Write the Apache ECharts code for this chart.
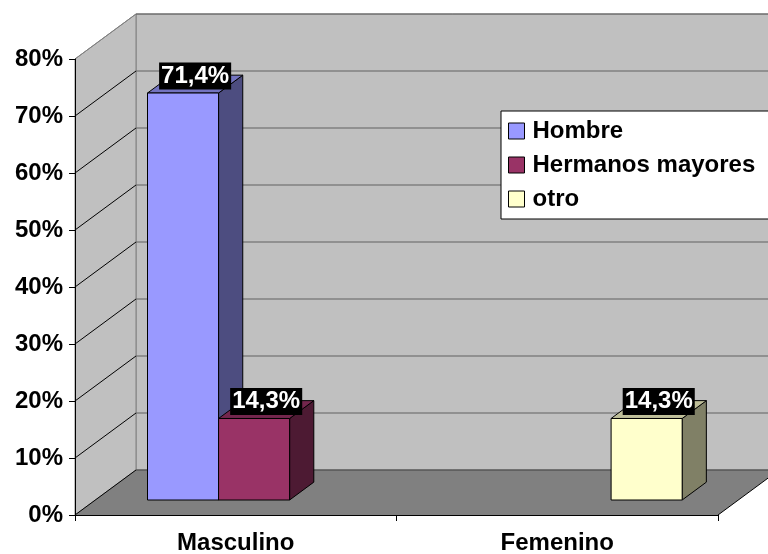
<!DOCTYPE html>
<html lang="es">
<head>
  <meta charset="UTF-8">
  <title>Chart</title>
  <script src="https://cdn.jsdelivr.net/npm/echarts@6.0.0/dist/echarts.min.js"></script>
  <style>
    html, body { margin: 0; padding: 0; background: #fff; }
  </style>
</head>
<body>
<div id="main" style="width: 768px;height:554px;"></div>
<script type="text/javascript">
  // datos
  const categories = ['Masculino', 'Femenino'];
  const seriesNames = ['Hombre', 'Hermanos mayores', 'otro'];
  const hombre = [71.4, 0];
  const hermanos = [14.3, 0];
  const otro = [0, 14.3];
  const yTicks = [0, 10, 20, 30, 40, 50, 60, 70, 80];

  // colores: frente, arriba, lado
  const colors = [
    ['#9999FF', '#7373BF', '#4D4D80'],
    ['#993366', '#73264D', '#4D1A33'],
    ['#FFFFCC', '#BFBF99', '#808066']
  ];

  // profundidad 3D (pixeles)
  const DX = 61, DY = -45;
  const D1 = 1 / 3, D2 = 0.73;
  const BAR_FRAC = 0.221;
  const FONT = 'bold 24px "Liberation Sans", Arial, sans-serif';

  var myChart = echarts.init(document.getElementById('main'));

  function fmt(v) {
    return v.toFixed(1).replace('.', ',') + '%';
  }

  // paredes y lineas de division
  function renderWalls(params, api) {
    const cs = params.coordSys;
    const L = cs.x, R = cs.x + cs.width, T = cs.y, B = cs.y + cs.height;
    const v = api.value(1);
    const y = api.coord([0, v])[1];
    const children = [];
    if (params.dataIndex === 0) {
      children.push({
        type: 'polygon',
        shape: {points: [[L + DX, T + DY], [R + DX, T + DY], [R + DX, B + DY], [L + DX, B + DY]]},
        style: {fill: '#C0C0C0', stroke: '#808080', lineWidth: 1}
      });
      children.push({
        type: 'polygon',
        shape: {points: [[L, T], [L + DX, T + DY], [L + DX, B + DY], [L, B]]},
        style: {fill: '#C0C0C0', stroke: '#808080', lineWidth: 1}
      });
      children.push({
        type: 'polygon',
        shape: {points: [[L, B], [R, B], [R + DX, B + DY], [L + DX, B + DY]]},
        style: {fill: '#808080', stroke: null}
      });
      children.push({
        type: 'line',
        shape: {x1: R, y1: B, x2: R + DX, y2: B + DY},
        style: {stroke: '#000', lineWidth: 1}
      });
    }
    children.push({
      type: 'line',
      shape: {x1: L + DX, y1: y + DY, x2: R + DX, y2: y + DY},
      style: {stroke: v === 0 ? '#404040' : '#606060', lineWidth: 1.2}
    });
    children.push({
      type: 'line',
      shape: {x1: L, y1: y, x2: L + DX, y2: y + DY},
      style: {stroke: v === 80 ? '#808080' : '#000', lineWidth: 1}
    });
    return {type: 'group', children: children};
  }

  // barras 3D
  function makeBarRenderer(si) {
    return function (params, api) {
      const cat = api.value(0);
      const v = api.value(1);
      if (!v) return null;
      const c = colors[si];
      const center = api.coord([cat, v]);
      const base = api.coord([cat, 0]);
      const catW = api.size([1, 0])[0];
      const bw = catW * BAR_FRAC;
      const x0 = center[0] - 1.5 * bw + si * bw + DX * D1 - 2;
      const x1 = x0 + bw;
      const yt = center[1] + DY * D1;
      const yb = base[1] + DY * D1;
      const ox = DX * (D2 - D1), oy = DY * (D2 - D1);
      const line = {stroke: '#000', lineWidth: 1};
      return {
        type: 'group',
        children: [
          {type: 'polygon', shape: {points: [[x1, yt], [x1 + ox, yt + oy], [x1 + ox, yb + oy], [x1, yb]]},
            style: Object.assign({fill: c[2]}, line)},
          {type: 'polygon', shape: {points: [[x0, yt], [x0 + ox, yt + oy], [x1 + ox, yt + oy], [x1, yt]]},
            style: Object.assign({fill: c[1]}, line)},
          {type: 'rect', shape: {x: x0, y: yt, width: bw, height: yb - yt},
            style: Object.assign({fill: c[0]}, line)},
          {type: 'text', x: (x0 + x1 + ox) / 2, y: yt + oy / 2 - 8, z2: 10,
            style: {text: fmt(v), fill: '#fff', font: FONT, align: 'center', verticalAlign: 'middle',
              backgroundColor: '#000', padding: [2, 2, 1, 2]}}
        ]
      };
    };
  }

  const values = [hombre, hermanos, otro];
  const barSeries = seriesNames.map(function (name, si) {
    return {
      name: name,
      type: 'custom',
      renderItem: makeBarRenderer(si),
      itemStyle: {color: colors[si][0]},
      encode: {x: 0, y: 1},
      data: values[si].map(function (v, i) { return [i, v]; }),
      z: 3 + si
    };
  });

  myChart.setOption({
    backgroundColor: '#fff',
    animation: false,
    grid: {left: 75, right: 50, top: 59, bottom: 39, containLabel: false, outerBoundsMode: 'none'},
    legend: {
      orient: 'vertical',
      left: 501,
      top: 111,
      data: seriesNames,
      backgroundColor: '#fff',
      borderColor: '#000',
      borderWidth: 1,
      padding: [8, 20, 8, 7],
      itemGap: 10,
      itemWidth: 16,
      itemHeight: 16,
      icon: 'rect',
      itemStyle: {borderColor: '#000', borderWidth: 1},
      textStyle: {fontFamily: '"Liberation Sans", Arial', fontWeight: 'bold', fontSize: 24, color: '#000', padding: [0, 0, 0, 3]}
    },
    xAxis: {
      type: 'category',
      data: categories,
      axisLine: {lineStyle: {color: '#000', width: 1}},
      axisTick: {show: true, length: 6, lineStyle: {color: '#000'}},
      axisLabel: {fontFamily: '"Liberation Sans", Arial', fontWeight: 'bold', fontSize: 24, color: '#000', margin: 16},
      splitLine: {show: false},
      z: 20
    },
    yAxis: {
      type: 'value',
      min: 0,
      max: 80,
      interval: 10,
      axisLine: {show: true, lineStyle: {color: '#000', width: 1}},
      axisTick: {show: true, length: 6, lineStyle: {color: '#000'}},
      axisLabel: {formatter: '{value}%', fontFamily: '"Liberation Sans", Arial', fontWeight: 'bold', fontSize: 24, color: '#000', margin: 12},
      splitLine: {show: false},
      z: 20
    },
    series: [{
      type: 'custom',
      name: 'walls',
      renderItem: renderWalls,
      encode: {x: 0, y: 1},
      data: yTicks.map(function (v) { return [0, v]; }),
      silent: true,
      z: 1
    }].concat(barSeries)
  });
</script>
</body>
</html>
